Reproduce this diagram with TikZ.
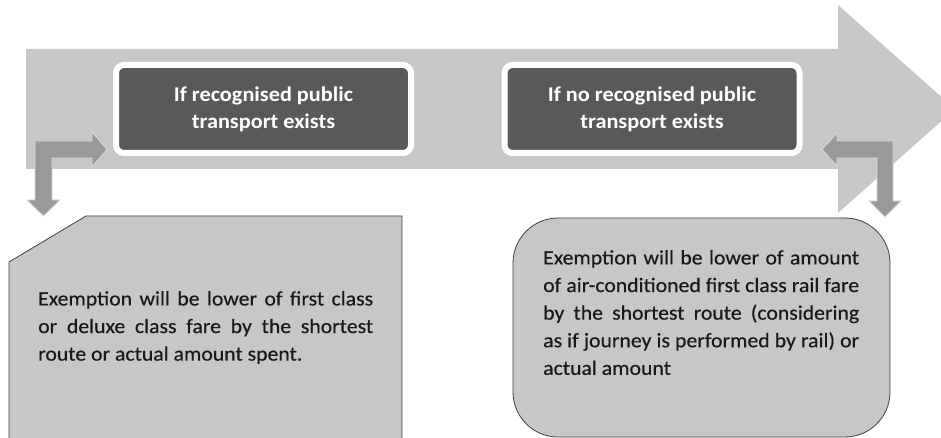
\documentclass[tikz,border=0pt]{standalone}
\usepackage{fontspec}
\setmainfont{Carlito}[FakeStretch=1.06]
\newfontfamily\farefont{Carlito}[FakeStretch=1.06, FakeBold=0.4]
\usepackage{tikz}

\tikzset{
  headbox/.style={draw=white, line width=6pt, fill=white!35!black, rounded corners=8pt,
    minimum width=295pt, minimum height=88pt, inner sep=0pt, text=white, align=center,
    font=\bfseries\fontsize{21}{27.3}\selectfont},
  bentarrow/.style={fill=white!60!black, draw=white!85!black, line width=0.8pt},
  infobox/.style={fill=white!78!black, draw=white!25!black, line width=0.8pt},
  infotext/.style={anchor=north west, inner sep=0pt, align=justify, text=white!10!black,
    font=\farefont\fontsize{20.5}{27.6}\selectfont}
}

\begin{document}
\begin{tikzpicture}[x=1pt,y=-1pt]
\useasboundingbox (0,0) rectangle (941,438);
\clip (0,0) rectangle (941,438);

\fill[white!78!black] (26,49) -- (838,49) -- (838,5) -- (955,109) -- (838,213) -- (838,169) -- (26,169) -- cycle ;

\node[headbox] (public) at (263.5,109) {If recognised public\\transport exists} ;
\node[headbox] (nopublic) at (652,109) {If no recognised public\\transport exists} ;

\filldraw[bentarrow] (35,141) -- (92,141) -- (92,132) -- (107,149.5) -- (92,167) -- (92,158) -- (52,158)
  -- (52,200) -- (60,200) -- (43.5,216) -- (27,200) -- (35,200) -- cycle ;
\filldraw[bentarrow] (893,141) -- (837,141) -- (837,133) -- (822,149.5) -- (837,166) -- (837,158) -- (877,158)
  -- (877,201) -- (869,201) -- (885,217) -- (901,201) -- (893,201) -- cycle ;

\filldraw[infobox] (86,216) -- (402,216) -- (402,450) -- (9,450) -- (9,262) -- cycle ;
\node[infotext, text width=335pt] (firstclass) at (38,291)
  {Exemption will be lower of first class\linebreak or deluxe class fare by the shortest\linebreak
   route or actual amount spent.} ;

\filldraw[infobox, rounded corners=45pt] (513,218) rectangle (890,437) ;
\node[infotext, text width=316pt] (railfare) at (543,250)
  {Exemption will be lower of amount\linebreak of air-conditioned first class rail fare\linebreak
   by the shortest route (considering\linebreak as if journey is performed by rail) or\linebreak
   actual amount} ;

\end{tikzpicture}
\end{document}
